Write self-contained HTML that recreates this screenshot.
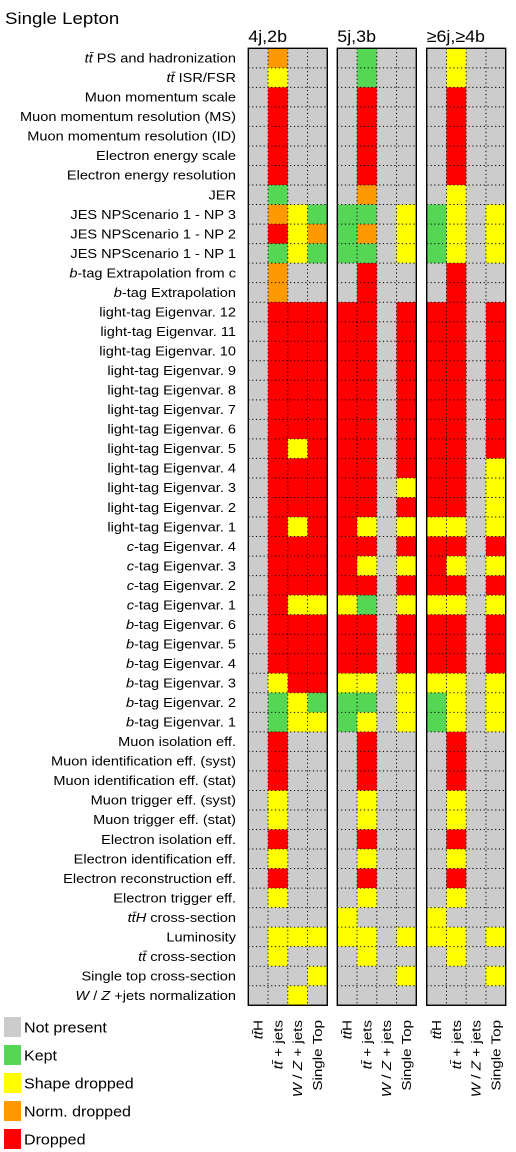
<!DOCTYPE html>
<html><head><meta charset="utf-8"><style>
body{margin:0;background:#fff;width:516px;height:1152px;overflow:hidden}
svg{display:block;font-family:"Liberation Sans",sans-serif}
</style></head><body>
<svg id="chart" width="516" height="1152" viewBox="0 0 516 1152">
<text x="0" y="0" font-size="17" transform="translate(5,24) scale(1.1,1)">Single Lepton</text>
<g id="labels"></g><g id="panels"></g><g id="legend"></g>
</svg>
<script>
const rowLabels = ["<i>tt̄</i> PS and hadronization","<i>tt̄</i> ISR/FSR","Muon momentum scale","Muon momentum resolution (MS)","Muon momentum resolution (ID)","Electron energy scale","Electron energy resolution","JER","JES NPScenario 1 - NP 3","JES NPScenario 1 - NP 2","JES NPScenario 1 - NP 1","<i>b</i>-tag Extrapolation from c","<i>b</i>-tag Extrapolation","light-tag Eigenvar. 12","light-tag Eigenvar. 11","light-tag Eigenvar. 10","light-tag Eigenvar. 9","light-tag Eigenvar. 8","light-tag Eigenvar. 7","light-tag Eigenvar. 6","light-tag Eigenvar. 5","light-tag Eigenvar. 4","light-tag Eigenvar. 3","light-tag Eigenvar. 2","light-tag Eigenvar. 1","<i>c</i>-tag Eigenvar. 4","<i>c</i>-tag Eigenvar. 3","<i>c</i>-tag Eigenvar. 2","<i>c</i>-tag Eigenvar. 1","<i>b</i>-tag Eigenvar. 6","<i>b</i>-tag Eigenvar. 5","<i>b</i>-tag Eigenvar. 4","<i>b</i>-tag Eigenvar. 3","<i>b</i>-tag Eigenvar. 2","<i>b</i>-tag Eigenvar. 1","Muon isolation eff.","Muon identification eff. (syst)","Muon identification eff. (stat)","Muon trigger eff. (syst)","Muon trigger eff. (stat)","Electron isolation eff.","Electron identification eff.","Electron reconstruction eff.","Electron trigger eff.","<i>tt̄H</i> cross-section","Luminosity","<i>tt̄</i> cross-section","Single top cross-section","<i>W</i> / <i>Z</i> +jets normalization"];
const panelTitles = ["4j,2b","5j,3b","≥6j,≥4b"];
const sampleNames = ["<i>tt̄</i>H","<i>tt̄</i> + jets","<i>W</i> / <i>Z</i> + jets","Single Top"];
const statusNames = ["Not present","Kept","Shape dropped","Norm. dropped","Dropped"];
const statusColors = ["#cccccc","#55d655","#ffff00","#ff9900","#ff0000"];
// 0 grey,1 green,2 yellow,3 orange,4 red ; each row: 4 values per panel
const panel1 = ["0300","0200","0400","0400","0400","0400","0400","0100","0321","0423","0121","0300","0300",
"0444","0444","0444","0444","0444","0444","0444","0424","0444","0444","0444","0424","0444","0444","0444","0422",
"0444","0444","0444","0244","0121","0122","0400","0400","0400","0200","0200","0400","0200","0400","0200",
"0000","0222","0200","0002","0020"];
const panel2 = ["0100","0100","0400","0400","0400","0400","0400","0300","1102","1302","1102","0400","0400",
"4404","4404","4404","4404","4404","4404","4404","4404","4404","4402","4404","4202","4404","4202","4404","2102",
"4404","4404","4404","2202","1102","1202","0400","0400","0400","0200","0200","0400","0200","0400","0200",
"2000","2202","0200","0002","0000"];
const panel3 = ["0200","0200","0400","0400","0400","0400","0400","0200","1202","1202","1202","0400","0400",
"4404","4404","4404","4404","4404","4404","4404","4404","4402","4402","4402","2202","4404","4202","4404","2202",
"4404","4404","4404","2202","1202","1202","0400","0400","0400","0200","0200","0400","0200","0400","0200",
"2000","2202","0200","0002","0000"];
const panelData = [panel1, panel2, panel3];

const NS="http://www.w3.org/2000/svg";
const top0=48.3, rowH=19.53, colW=19.75;
const panelX=[248.3,337.3,426.7];
const yOf=r=>top0+r*rowH;
function mk(tag,attrs,parent){const e=document.createElementNS(NS,tag);for(const k in attrs)e.setAttribute(k,attrs[k]);parent.appendChild(e);return e;}
function it(s){return s.replace(/<i>/g,'<tspan font-style="italic">').replace(/<\/i>/g,'</tspan>');}
const labelsG=document.getElementById('labels'), panelsG=document.getElementById('panels'), legendG=document.getElementById('legend');
rowLabels.forEach((lab,r)=>{
  const t=mk('text',{x:0,y:0,'font-size':13,'text-anchor':'end',transform:`translate(236,${yOf(r)+rowH/2+4.5}) scale(1.12,1)`},labelsG);
  t.innerHTML=it(lab);
  
  
});
const nRows=rowLabels.length;
panelData.forEach((data,p)=>{
  const g=mk('g',{},panelsG);
  
  
  const x0=panelX[p];
  const tt=mk('text',{x:0,y:0,'font-size':17,transform:`translate(${x0},42) scale(1.05,1)`},g); tt.textContent=panelTitles[p];
  
  
  data.forEach((row,r)=>{
    for(let c=0;c<4;c++){
      const v=+row[c];
      const rc=mk('rect',{x:x0+c*colW,y:yOf(r),width:colW+0.3,height:rowH+0.3,fill:statusColors[v]},g);
      
      
    }
  });
  for(let c=1;c<4;c++) mk('line',{x1:x0+c*colW,x2:x0+c*colW,y1:top0,y2:yOf(nRows),stroke:'#000','stroke-width':1,'stroke-dasharray':'1.2,2.6'},g);
  for(let r=1;r<nRows;r++) mk('line',{x1:x0,x2:x0+4*colW,y1:yOf(r),y2:yOf(r),stroke:'#000','stroke-width':1,'stroke-dasharray':'1.2,2.6'},g);
  mk('rect',{x:x0,y:top0,width:4*colW,height:nRows*rowH,fill:'none',stroke:'#000','stroke-width':1.4},g);
  sampleNames.forEach((s,c)=>{
    const cx=x0+c*colW+colW/2+4.5;
    const t=mk('text',{x:0,y:0,'font-size':13,'text-anchor':'end',transform:`translate(${cx},1020) rotate(-90) scale(1.17,1)`},g);
    t.innerHTML=it(s);
    
    
  });
});
statusNames.forEach((s,i)=>{
  const y=1017+i*28;
  const r=mk('rect',{x:4,y:y,width:17,height:20,fill:statusColors[i]},legendG);
  
  
  const t=mk('text',{x:0,y:0,'font-size':15,transform:`translate(24,${y+15.5}) scale(1.07,1)`},legendG); t.textContent=s;
  
  
});
</script>
</body></html>
